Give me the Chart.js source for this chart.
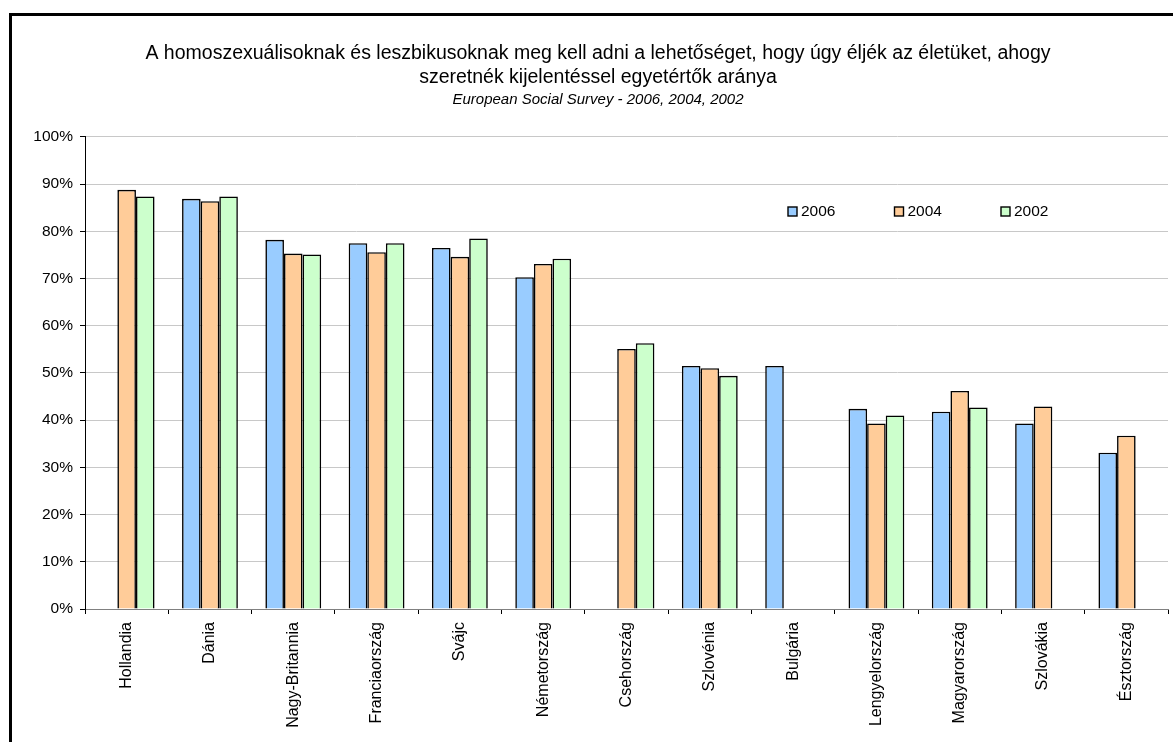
<!DOCTYPE html>
<html>
<head>
<meta charset="utf-8">
<script src="https://cdn.jsdelivr.net/npm/chart.js@4.4.1/dist/chart.umd.min.js"></script>
<style>
  html, body { margin: 0; padding: 0; background: #fff; overflow: hidden; }
  #keret {
    position: absolute; left: 9px; top: 13px;
    width: 1400px; height: 900px;
    border-left: 3px solid #000; border-top: 3px solid #000;
  }
  #wrap { position: absolute; left: 0; top: 0; width: 1172px; height: 726px; }
</style>
</head>
<body>
<div id="keret"><div id="wrap"><canvas id="esgChart"></canvas></div></div>
<script>
// Országok
const orszagok = ['Hollandia', 'Dánia', 'Nagy-Britannia', 'Franciaország', 'Svájc', 'Németország',
  'Csehország', 'Szlovénia', 'Bulgária', 'Lengyelország', 'Magyarország', 'Szlovákia', 'Észtország'];

// Egyetértők aránya (%) évenként, null = nincs adat
const ertek2006 = [null, 86.9, 78.2, 77.5, 76.5, 70.3, null, 51.5, 51.5, 42.4, 41.8, 39.3, 33.1];
const ertek2004 = [88.8, 86.4, 75.3, 75.6, 74.6, 73.1, 55.1, 51.0, null, 39.3, 46.2, 42.9, 36.7];
const ertek2002 = [87.4, 87.4, 75.1, 77.5, 78.5, 74.2, 56.3, 49.4, null, 41.0, 42.7, null, null];

const evek = ['2006', '2004', '2002'];
const szinek = ['#99CCFF', '#FFCC99', '#CCFFCC'];

const betu = 'Liberation Sans, Arial, sans-serif';

// Saját jelmagyarázat a diagram területén belül
const jelmagyarazat = {
    id: 'jelmagyarazat',
    afterDraw(chart) {
        const ctx = chart.ctx;
        ctx.save();
        ctx.font = '15.5px ' + betu;
        ctx.textBaseline = 'middle';
        chart.data.datasets.forEach((ds, i) => {
            const x = 776 + i * 106.5;
            const y = 191;
            ctx.fillStyle = ds.backgroundColor;
            ctx.fillRect(x, y, 9, 9);
            ctx.strokeStyle = '#000';
            ctx.lineWidth = 1.4;
            ctx.strokeRect(x, y, 9, 9);
            ctx.fillStyle = '#000';
            ctx.fillText(ds.label, x + 13, y + 5);
        });
        ctx.restore();
    }
};

const adatok = {
    labels: orszagok,
    datasets: [ertek2006, ertek2004, ertek2002].map((sor, i) => ({
        label: evek[i],
        data: sor,
        backgroundColor: szinek[i],
        borderColor: '#000',
        borderWidth: 1.6,
        categoryPercentage: 0.67,
        barPercentage: 1.0
    }))
};

new Chart(document.getElementById('esgChart').getContext('2d'), {
    type: 'bar',
    data: adatok,
    options: {
        responsive: true,
        maintainAspectRatio: false,
        animation: false,
        layout: { padding: { left: 16, right: 16, top: 0, bottom: 0 } },
        plugins: {
            legend: { display: false },
            tooltip: { enabled: false },
            title: {
                display: true,
                text: ['A homoszexuálisoknak és leszbikusoknak meg kell adni a lehetőséget, hogy úgy éljék az életüket, ahogy',
                       'szeretnék kijelentéssel egyetértők aránya'],
                color: '#000',
                font: { family: betu, size: 19.5, weight: 'normal', lineHeight: 1.23 },
                padding: { top: 26, bottom: 1 }
            },
            subtitle: {
                display: true,
                text: 'European Social Survey - 2006, 2004, 2002',
                color: '#000',
                font: { family: betu, size: 15, style: 'italic', lineHeight: 1.2 },
                padding: { top: 0, bottom: 28 }
            }
        },
        scales: {
            x: {
                grid: { display: true, drawOnChartArea: false, offset: true, tickLength: 5, color: '#000' },
                border: { color: '#808080', width: 1 },
                ticks: {
                    color: '#000',
                    font: { family: betu, size: 16 },
                    minRotation: 90,
                    maxRotation: 90,
                    autoSkip: false,
                    padding: 8
                },
                afterFit(scale) { scale.height = 133; }
            },
            y: {
                min: 0,
                max: 1e2,
                grid: { color: '#c8c8c8', tickLength: 5, tickColor: '#000', lineWidth: 1 },
                border: { color: '#000', width: 1 },
                ticks: {
                    stepSize: 10,
                    color: '#000',
                    padding: 7,
                    font: { family: betu, size: 15.5 },
                    callback: v => v + '%'
                },
                afterFit(scale) { scale.width = 57; }
            }
        }
    },
    plugins: [jelmagyarazat]
});
</script>
</body>
</html>
